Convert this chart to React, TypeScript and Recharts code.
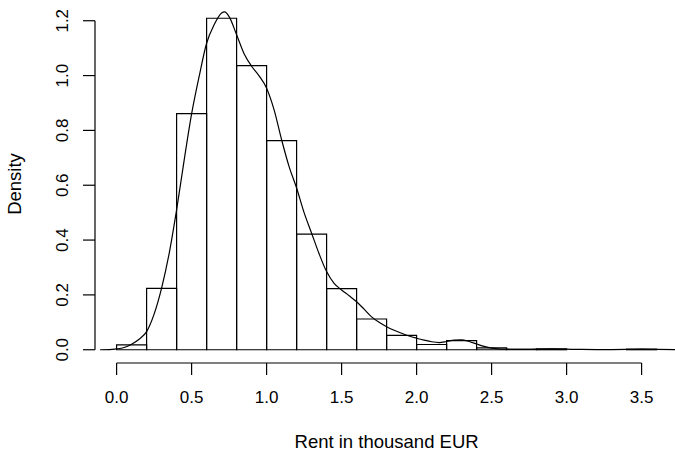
import React from "react";
import {
  ComposedChart,
  Line,
  XAxis,
  YAxis,
  ReferenceArea,
  ReferenceLine,
  Label,
} from "recharts";

// Histogram bins (left edge, width 0.2) and their densities
const BIN_WIDTH = 0.2;
const binStarts = [0, 0.2, 0.4, 0.6, 0.8, 1.0, 1.2, 1.4, 1.6, 1.8, 2.0, 2.2, 2.4, 2.6, 2.8, 3.0, 3.2, 3.4];
const binDensity = [
  0.018, 0.224, 0.861, 1.209, 1.036, 0.763, 0.422, 0.223, 0.112, 0.052, 0.019, 0.033, 0.007, 0.001,
  0.003, 0.0, 0.0, 0.002,
];

// Kernel density estimate of rent
const kdeX = [
  -0.11, -0.05, 0, 0.05, 0.1, 0.15, 0.2, 0.25, 0.3, 0.35, 0.4, 0.45, 0.5, 0.55, 0.6, 0.65, 0.7, 0.72,
  0.75, 0.8, 0.85, 0.9, 0.95, 1.0, 1.05, 1.1, 1.15, 1.2, 1.25, 1.3, 1.35, 1.4, 1.45, 1.5, 1.55, 1.6,
  1.65, 1.7, 1.75, 1.8, 1.85, 1.9, 1.95, 2.0, 2.05, 2.1, 2.15, 2.2, 2.25, 2.3, 2.35, 2.4, 2.45, 2.5,
  2.6, 2.7, 2.8, 2.9, 3.0, 3.1, 3.2, 3.3, 3.4, 3.5, 3.6, 3.73,
];
const kdeY = [
  0, 0.0005, 0.003, 0.008, 0.02, 0.038, 0.066, 0.13, 0.225, 0.35, 0.51, 0.69, 0.86, 0.996, 1.118,
  1.185, 1.228, 1.232, 1.215, 1.149, 1.08, 1.034, 0.999, 0.954, 0.875, 0.766, 0.668, 0.59, 0.5, 0.425,
  0.35, 0.285, 0.242, 0.218, 0.197, 0.175, 0.148, 0.12, 0.1, 0.084, 0.071, 0.06, 0.05, 0.042, 0.035,
  0.029, 0.026, 0.03, 0.035, 0.036, 0.03, 0.021, 0.012, 0.006, 0.002, 0.001, 0.002, 0.003, 0.002,
  0.001, 0.0005, 0.0005, 0.001, 0.002, 0.001, 0,
];

const xTicks = [0, 0.5, 1.0, 1.5, 2.0, 2.5, 3.0, 3.5];
const yTicks = [0, 0.2, 0.4, 0.6, 0.8, 1.0, 1.2];

// Plot ranges padded by 4% on each side
const X_MIN = -0.144;
const X_MAX = 3.744;
const Y_MIN = -0.0484;
const Y_MAX = 1.2574;

const kdeData = kdeX.map((x, i) => ({ x, d: kdeY[i] }));

const FONT = "'Liberation Sans', Arial, Helvetica, sans-serif";
const TICK_SIZE = 17;
const TITLE_SIZE = 18.5;

const XTick = (props: any) => {
  const { x, y, payload } = props;
  return (
    <text x={x} y={y + 28} textAnchor="middle" fontFamily={FONT} fontSize={TICK_SIZE} fill="#000">
      {Number(payload.value).toFixed(1)}
    </text>
  );
};

const YTick = (props: any) => {
  const { x, y, payload } = props;
  const bx = x - 14.5;
  return (
    <text
      x={bx}
      y={y}
      transform={`rotate(-90, ${bx}, ${y})`}
      textAnchor="middle"
      fontFamily={FONT}
      fontSize={TICK_SIZE}
      fill="#000"
    >
      {Number(payload.value).toFixed(1)}
    </text>
  );
};

export default function App() {
  return (
    <div style={{ position: "absolute", left: 0, top: 0, width: 675, height: 451, background: "#fff" }}>
      <ComposedChart
        width={675}
        height={451}
        data={kdeData}
        margin={{ top: 5, right: -3.2, bottom: 0, left: 0 }}
      >
        <XAxis
          dataKey="x"
          type="number"
          domain={[X_MIN, X_MAX]}
          ticks={xTicks}
          allowDataOverflow
          height={88}
          axisLine={false}
          tickLine={{ stroke: "#000", strokeWidth: 1.2 }}
          tickSize={12}
          tickMargin={0}
          tick={<XTick />}
          interval={0}
        >
          <Label
            content={(p: any) => {
              const vb = p.viewBox || { x: 95, y: 363, width: 583, height: 88 };
              return (
                <text
                  x={vb.x + vb.width / 2}
                  y={vb.y + 85}
                  textAnchor="middle"
                  fontFamily={FONT}
                  fontSize={TITLE_SIZE}
                  fill="#000"
                >
                  Rent in thousand EUR
                </text>
              );
            }}
          />
        </XAxis>
        <YAxis
          type="number"
          domain={[Y_MIN, Y_MAX]}
          ticks={yTicks}
          allowDataOverflow
          width={95}
          axisLine={false}
          tickLine={{ stroke: "#000", strokeWidth: 1.2 }}
          tickSize={12}
          tickMargin={0}
          tick={<YTick />}
          interval={0}
        >
          <Label
            content={(p: any) => {
              const vb = p.viewBox || { x: 0, y: 5, width: 95, height: 358 };
              const cx = 21;
              const cy = vb.y + vb.height / 2;
              return (
                <text
                  x={cx}
                  y={cy}
                  transform={`rotate(-90, ${cx}, ${cy})`}
                  textAnchor="middle"
                  fontFamily={FONT}
                  fontSize={TITLE_SIZE}
                  fill="#000"
                >
                  Density
                </text>
              );
            }}
          />
        </YAxis>

        {/* axis lines span only the first to last tick */}
        <ReferenceLine
          segment={[
            { x: xTicks[0], y: Y_MIN },
            { x: xTicks[xTicks.length - 1], y: Y_MIN },
          ]}
          stroke="#000"
          strokeWidth={1.2}
          ifOverflow="visible"
        />
        <ReferenceLine
          segment={[
            { x: X_MIN, y: yTicks[0] },
            { x: X_MIN, y: yTicks[yTicks.length - 1] },
          ]}
          stroke="#000"
          strokeWidth={1.2}
          ifOverflow="visible"
        />

        {binStarts.map((lo, i) => (
          <ReferenceArea
            key={`bin-${i}`}
            x1={lo}
            x2={lo + BIN_WIDTH}
            y1={0}
            y2={binDensity[i]}
            fill="none"
            fillOpacity={0}
            stroke="#000"
            strokeWidth={1.2}
            strokeOpacity={1}
            ifOverflow="visible"
          />
        ))}

        <Line
          dataKey="d"
          type="monotone"
          stroke="#000"
          strokeWidth={1.2}
          dot={false}
          activeDot={false}
          isAnimationActive={false}
        />
      </ComposedChart>
    </div>
  );
}
